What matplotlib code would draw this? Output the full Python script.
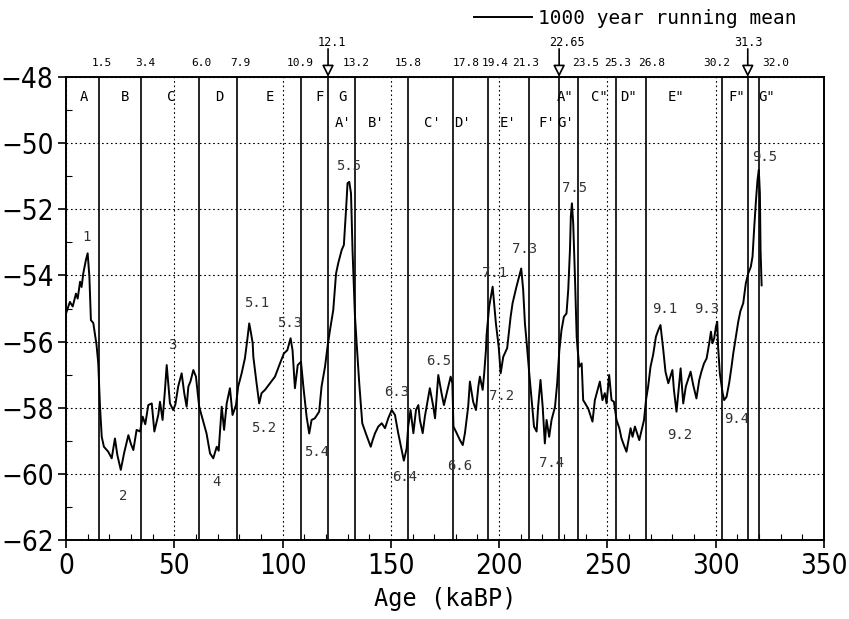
import matplotlib
matplotlib.use("Agg")
import matplotlib.pyplot as plt
from matplotlib import font_manager
from matplotlib.ticker import MultipleLocator

# 1000 year running mean curve (age kaBP, value)
age = [0.0, 1.8, 3.1, 4.6, 5.4, 6.5, 7.2, 8.0, 9.2, 10.0, 10.8, 11.5, 12.6, 13.2, 14.1, 14.9,
       15.7, 16.5, 17.5, 19.5, 21.1, 22.6, 23.7, 25.3, 26.8, 28.8, 30.0, 31.1, 32.6, 34.2, 35.4,
       36.6, 38.0, 39.6, 40.8, 42.6, 43.4, 44.6, 45.7, 46.5, 48.0, 49.5, 50.5, 51.8, 53.4, 54.6,
       55.7, 56.5, 57.5, 58.8, 60.0, 61.5, 63.4, 64.9, 66.5, 68.0, 69.6, 70.5, 71.9, 73.0, 74.2,
       75.7, 76.9, 78.5, 79.5, 81.1, 82.6, 83.7, 84.6, 85.3, 86.2, 86.5, 88.0, 89.2, 90.3, 91.9,
       94.2, 96.5, 98.8, 100.6, 102.2, 103.7, 104.6, 105.7, 107.0, 108.5, 109.6, 111.1, 112.3,
       113.4, 114.9, 116.9, 118.0, 119.6, 120.8, 121.9, 123.4, 124.7, 125.7, 127.3, 128.3, 129.3,
       130.0, 130.8, 131.6, 132.3, 133.4, 134.2, 135.4, 136.8, 138.4, 139.6, 140.7, 141.6, 142.7,
       144.2, 145.8, 147.3, 148.8, 150.4, 151.9, 153.4, 155.0, 156.0, 157.3, 158.0, 159.1, 160.4,
       161.6, 162.7, 163.4, 164.7, 165.7, 168.0, 169.6, 170.4, 171.9, 173.4, 174.5, 177.6, 178.4,
       178.9, 180.4, 181.9, 183.2, 184.2, 185.7, 186.5, 188.0, 189.3, 190.4, 191.1, 192.4, 193.1,
       193.9, 194.2, 195.4, 196.2, 197.0, 198.5, 199.8, 200.7, 201.9, 203.7, 205.3, 206.2, 207.3,
       208.0, 209.6, 210.2, 211.1, 211.9, 212.8, 213.9, 215.0, 216.1, 217.3, 218.0, 219.1, 220.1,
       221.1, 221.9, 223.1, 224.2, 225.8, 226.8, 227.8, 228.8, 229.9, 231.1, 231.9, 232.7, 233.1,
       233.6, 234.2, 235.0, 235.8, 236.2, 237.0, 238.1, 238.8, 240.0, 241.1, 243.1, 244.2, 246.5,
       247.7, 248.8, 249.6, 250.8, 251.9, 253.0, 254.2, 255.5, 256.5, 257.6, 258.8, 259.7, 260.7,
       261.6, 262.7, 264.7, 265.8, 266.9, 267.8, 268.8, 269.9, 271.1, 272.4, 273.5, 274.5, 275.8,
       276.8, 278.1, 280.0, 280.7, 281.9, 282.7, 283.8, 285.0, 286.2, 288.4, 289.6, 291.1, 292.4,
       293.4, 294.6, 295.8, 297.0, 297.8, 298.5, 299.3, 300.1, 300.7, 301.1, 301.9, 303.2, 303.9,
       305.0, 306.2, 307.3, 308.1, 309.3, 310.4, 311.4, 312.7, 313.9, 315.0, 316.2, 317.0, 317.8,
       318.6, 319.3, 319.9, 320.4, 320.7, 321.2]
value = [-55.15, -54.8, -54.94, -54.55, -54.7, -54.19, -54.35, -53.93, -53.53, -53.33, -54.04,
         -55.35, -55.44, -55.7, -56.1, -56.66, -57.97, -58.88, -59.18, -59.33, -59.53, -58.93,
         -59.43, -59.88, -59.38, -58.83, -59.1, -59.28, -58.67, -58.72, -58.27, -58.5, -57.92,
         -57.87, -58.72, -58.22, -57.82, -58.37, -57.46, -56.71, -57.87, -58.07, -57.9, -57.36,
         -56.96, -57.56, -57.97, -57.36, -57.2, -56.86, -57.06, -57.97, -58.42, -58.78, -59.38,
         -59.53, -59.18, -59.3, -57.97, -58.67, -57.87, -57.41, -58.22, -57.92, -57.36, -56.96,
         -56.51, -55.95, -55.45, -55.7, -56.05, -56.46, -57.26, -57.87, -57.56, -57.46, -57.26,
         -57.06, -56.66, -56.36, -56.26, -55.9, -56.26, -57.41, -56.71, -56.61, -57.36, -58.27,
         -58.78, -58.37, -58.32, -58.12, -57.36, -56.76, -56.13, -55.65, -55.05, -53.94, -53.63,
         -53.23, -53.08, -52.02, -51.21, -51.17, -51.52, -53.23, -55.2, -56.05, -57.26, -58.47,
         -58.77, -58.98, -59.18, -58.98, -58.77, -58.57, -58.47, -58.62, -58.32, -58.07, -58.22,
         -58.77, -59.28, -59.6, -59.23, -58.57, -58.07, -58.77, -58.07, -57.92, -58.37, -58.77,
         -58.27, -57.41, -57.97, -58.32, -57.01, -57.56, -57.92, -57.06, -57.26, -58.57, -58.77,
         -58.98, -59.13, -58.77, -57.97, -57.21, -57.82, -58.07, -57.36, -57.06, -57.46, -56.96,
         -56.26, -55.8, -54.94, -54.64, -54.34, -55.45, -56.16, -56.96, -56.46, -56.2, -55.25,
         -54.84, -54.54, -54.34, -53.94, -53.79, -54.44, -55.45, -56.1, -56.96, -57.77, -58.57,
         -58.72, -57.97, -57.16, -57.97, -59.08, -58.37, -58.88, -58.37, -57.97, -57.26, -56.26,
         -55.65, -55.25, -55.15, -54.44, -53.23, -52.22, -51.82, -52.42, -54.04, -55.85, -56.2,
         -56.76, -56.66, -57.77, -57.9, -58.02, -58.42, -57.77, -57.21, -57.77, -57.56, -57.87,
         -57.01, -57.77, -57.82, -58.37, -58.62, -58.93, -59.13, -59.33, -59.0, -58.62, -58.88,
         -58.57, -58.98, -58.67, -58.37, -57.77, -57.36, -56.76, -56.4, -55.85, -55.65, -55.5,
         -56.26, -56.91, -57.26, -56.86, -57.46, -58.12, -57.56, -56.81, -57.87, -57.36, -56.91,
         -57.31, -57.72, -57.16, -56.91, -56.66, -56.51, -56.05, -55.7, -56.05, -55.9, -55.55,
         -55.4, -56.16, -56.96, -57.56, -57.77, -57.67, -57.26, -56.76, -56.36, -55.85, -55.4,
         -55.08, -54.84, -54.24, -53.94, -53.74, -53.43, -52.53, -51.72, -51.11, -50.81, -51.52,
         -53.23, -54.3]

# stage boundaries (age) and their depth labels
bounds = [15.3, 34.8, 61.2, 79.0, 108.7, 121.0, 133.5, 157.8, 178.8, 194.7, 213.7, 227.7,
          236.3, 253.8, 267.8, 303.0, 314.8, 320.2]
depth_labels = ['1.5', '3.4', '6.0', '7.9', '10.9', '12.1', '13.2', '15.8', '17.8', '19.4',
                '21.3', '22.65', '23.5', '25.3', '26.8', '30.2', '31.3', '32.0']
depth_label_x = [16.5, 36.5, 62.6, 80.3, 108.0, 122.7, 134.2, 157.9, 185.0, 198.2, 212.0,
                 231.3, 240.0, 254.8, 270.4, 300.4, 315.0, 327.6]
arrow_labels = ['12.1', '22.65', '31.3']

# zone letters: (text, age)
zones_row1 = [('A', 8.4), ('B', 27.3), ('C', 48.5), ('D', 71), ('E', 94.2), ('F', 117),
              ('G', 127.5), ('A"', 230.4), ('C"', 246.5), ('D"', 259.6), ('E"', 281.6),
              ('F"', 309.6), ('G"', 323.5)]
zones_row2 = [("A'", 128), ("B'", 143.4), ("C'", 169), ("D'", 183.3), ("E'", 204),
              ("F'", 221.9), ("G'", 230.8)]

# peak / stage numbers: (text, age, value)
peaks = [('1', 9.5, -52.85), ('2', 26.3, -60.67), ('3', 48.9, -56.1), ('4', 69.3, -60.24),
         ('5.1', 88, -54.84), ('5.2', 91.1, -58.6), ('5.3', 103.4, -55.45), ('5.4', 115.7, -59.33),
         ('5.5', 130.3, -50.69), ('6.3', 152.7, -57.52), ('6.4', 156.5, -60.09),
         ('6.5', 171.9, -56.58), ('6.6', 181.9, -59.76), ('7.1', 198, -53.94),
         ('7.2', 201.1, -57.65), ('7.3', 211.9, -53.21), ('7.4', 224.2, -59.66),
         ('7.5', 235, -51.37), ('9.1', 276.5, -55.0), ('9.2', 283.5, -58.83),
         ('9.3', 295.8, -55.0), ('9.4', 309.6, -58.35), ('9.5', 322.7, -50.41)]

mono = ['DejaVu Sans Mono', 'DejaVu Sans']
tick_font = font_manager.FontProperties(family='DejaVu Sans', stretch='condensed', size=20)

fig = plt.figure(figsize=(8.49, 6.19), dpi=100)
ax = fig.add_axes([66 / 849, 1 - 540 / 619, 758 / 849, 463 / 619])

ax.plot(age, value, color='black', lw=1.4, label='1000 year running mean', zorder=3)

for b in bounds:
    ax.axvline(b, color='black', lw=1.2, zorder=2)

ax.set_xlim(0, 350)
ax.set_ylim(-62, -48)
ax.xaxis.set_major_locator(MultipleLocator(50))
ax.xaxis.set_minor_locator(MultipleLocator(10))
ax.yaxis.set_major_locator(MultipleLocator(2))
ax.yaxis.set_minor_locator(MultipleLocator(1))
ax.tick_params(which='major', direction='out', length=6, width=1.2, pad=3)
ax.tick_params(which='minor', direction='in', length=4, width=0.8)
ax.grid(True, which='major', linestyle=(0, (1.5, 2.5)), color='black', lw=0.8)
for s in ax.spines.values():
    s.set_linewidth(1.4)

for lab in ax.get_xticklabels() + ax.get_yticklabels():
    lab.set_fontproperties(tick_font)

ax.set_xlabel('Age (kaBP)', fontfamily=mono, fontsize=17, labelpad=5)

# depth labels above the top axis
for b, t, tx in zip(bounds, depth_labels, depth_label_x):
    if t in arrow_labels:
        ax.annotate('', xy=(b, -48), xytext=(b, -47.15), annotation_clip=False,
                    arrowprops=dict(arrowstyle='-|>,head_length=0.7,head_width=0.35',
                                    fc='white', ec='black', lw=1.2, shrinkA=0, shrinkB=0))
        ax.text(tx, -46.95, t, ha='center', va='center', fontsize=8.5, fontfamily=mono,
                clip_on=False)
    else:
        ax.text(tx, -47.58, t, ha='center', va='center', fontsize=8, fontfamily=mono,
                clip_on=False)

for t, x in zones_row1:
    ax.text(x, -48.6, t, ha='center', va='center', fontsize=10, fontfamily=mono)
for t, x in zones_row2:
    ax.text(x, -49.4, t, ha='center', va='center', fontsize=10, fontfamily=mono)

for t, x, y in peaks:
    ax.text(x, y, t, ha='center', va='center', fontsize=10, fontfamily=mono, color='#333333',
            zorder=4)

ax.legend(loc='upper left', bbox_to_anchor=(474 / 849, 1 - 9 / 619),
          bbox_transform=fig.transFigure, frameon=False, handlelength=3.0,
          handletextpad=0.3, borderpad=0, borderaxespad=0,
          prop={'family': mono, 'size': 14})

fig.savefig('out.png', dpi=100)
